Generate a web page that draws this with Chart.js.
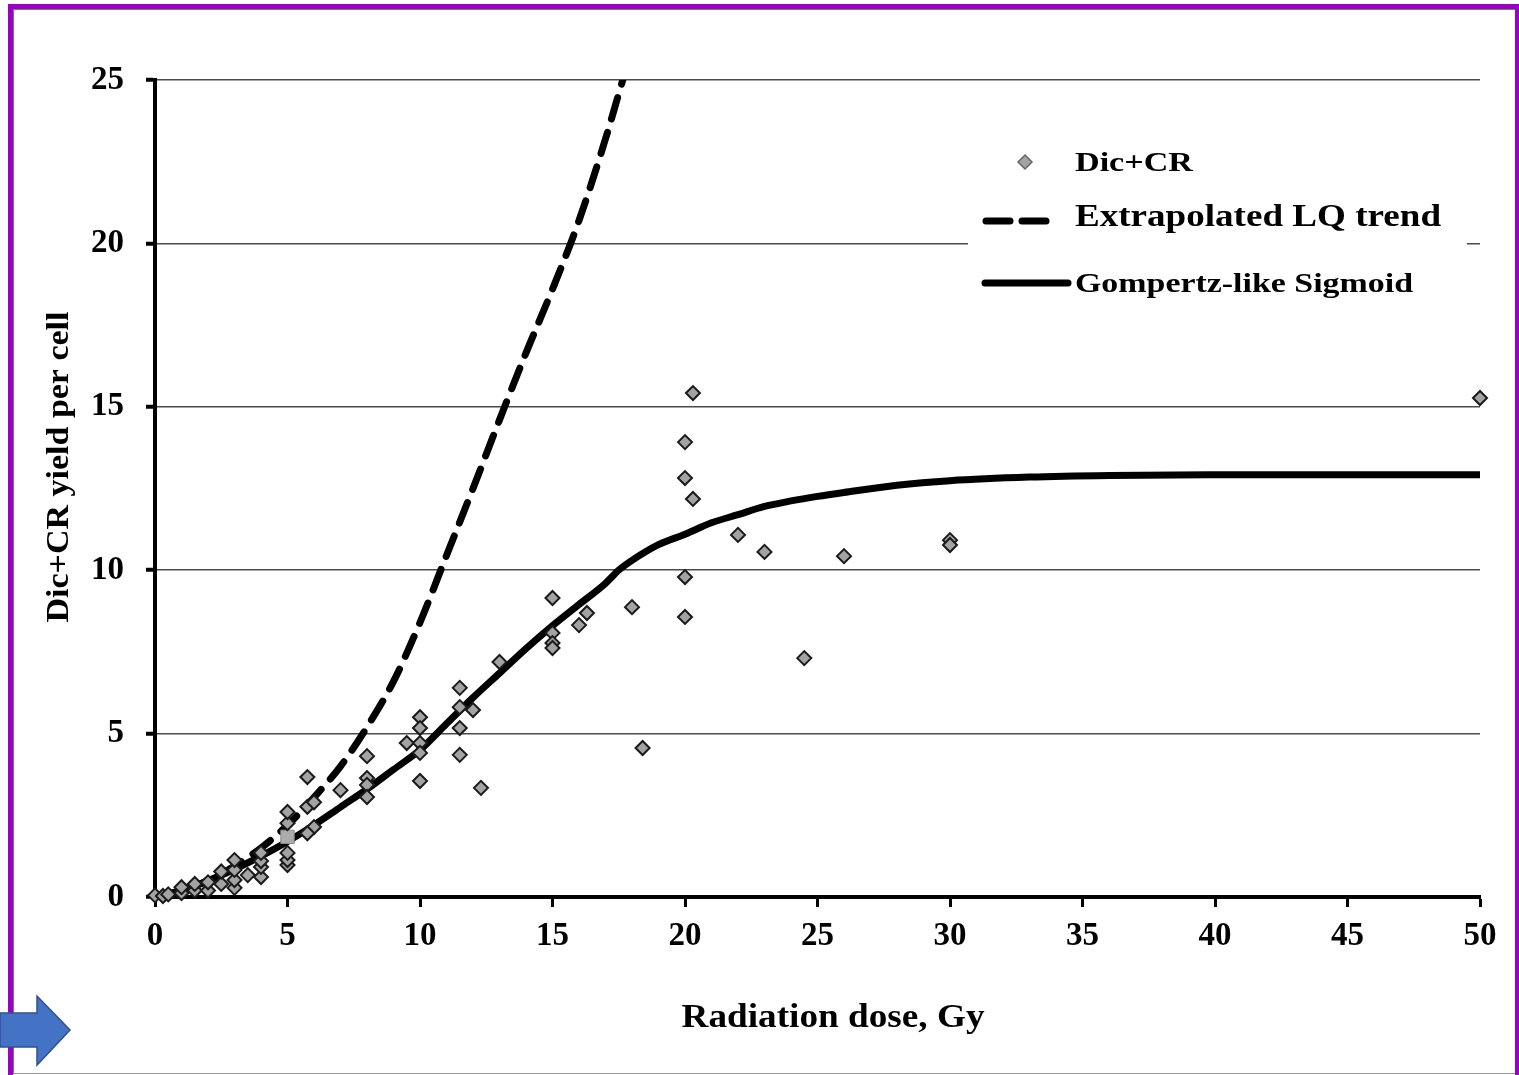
<!DOCTYPE html>
<html>
<head>
<meta charset="utf-8">
<script src="https://cdn.jsdelivr.net/npm/chart.js@4.4.1/dist/chart.umd.min.js"></script>
<style>
  html, body { margin: 0; padding: 0; background: #fff; }
  body { width: 1519px; height: 1075px; position: relative; overflow: hidden; }
  #frame { position: absolute; left: 8px; top: 4px; width: 1502px; height: 1075px;
           border-left: 5px solid #9a00c8; border-top: 5px solid #9a00c8; border-right: 4px solid #9a00c8; }
  #frame .inner { position: absolute; left: 0; top: 0; right: 0; height: 1063px;
                  border-left: 1px solid #777; border-top: 1px solid #777; border-bottom: 1px solid #999; }
  #chart { position: absolute; left: 0; top: 0; }
  #arrow { position: absolute; left: 0; top: 0; }
</style>
</head>
<body>
<div id="frame"><div class="inner"></div></div>
<canvas id="chart" width="1519" height="1075"></canvas>
<svg id="arrow" width="1519" height="1075">
  <polygon points="0,1013 37,1013 37,996 70,1030 37,1065 37,1047 0,1047" fill="#4472c4" stroke="#2f528f" stroke-width="1.5"/>
</svg>
<script>
// Dic+CR yield vs radiation dose

/* measured points */
const scatterDose = [0, 0.3, 0.5, 1, 1, 1.5, 1.5, 2, 2, 2.5, 2.5, 3, 3, 3, 3, 3.5, 4, 4, 4, 4,
  5, 5, 5, 5, 5, 5.75, 5.75, 6, 6, 5.75, 7, 8, 8, 8, 8, 9.5, 10, 10, 10, 10, 10,
  11.5, 11.5, 11.5, 11.5, 12, 12.3, 13, 15, 15, 15, 15, 16, 16.3, 18, 18.4,
  20, 20, 20, 20, 20.3, 20.3, 22, 23, 24.5, 26, 30, 30, 50];
const scatterYield = [0.05, 0.03, 0.08, 0.12, 0.3, 0.2, 0.4, 0.2, 0.45, 0.4, 0.78, 0.28, 0.52, 0.83, 1.13, 0.67, 0.61, 0.92, 1.1, 1.35,
  0.98, 1.13, 1.35, 2.26, 2.6, 3.67, 2.76, 2.9, 2.14, 1.95, 3.27, 4.31, 3.64, 3.43, 3.06, 4.71, 5.5, 5.17, 4.71, 4.41, 3.55,
  6.4, 5.81, 5.17, 4.35, 5.72, 3.34, 7.19, 9.15, 8.08, 7.77, 7.62, 8.32, 8.69, 8.87, 4.56,
  13.92, 12.82, 9.79, 8.57, 15.42, 12.18, 11.08, 10.56, 7.31, 10.43, 10.92, 10.77, 15.27];

/* the odd square marker at 5 Gy */
const squareDose = [5];
const squareYield = [1.84];

/* fitted curves */
const sigmoidDose = [0, 1, 2, 3, 4, 5, 6, 7, 8, 9, 10, 11, 12, 13, 14, 15, 16, 17, 17.5, 18, 19, 20, 21, 22, 23, 24, 25, 26, 28, 30, 33, 36, 40, 45, 50];
const sigmoidYield = [0, 0.2, 0.5, 0.85, 1.25, 1.7, 2.2, 2.75, 3.3, 3.9, 4.5, 5.3, 6.1, 6.85, 7.6, 8.3, 8.95, 9.6, 10.0, 10.3, 10.78, 11.1, 11.45, 11.7, 11.95, 12.12, 12.26, 12.38, 12.6, 12.74, 12.85, 12.9, 12.92, 12.92, 12.92];

const lqDose = [0, 1, 2, 3, 4, 5, 6, 7, 8, 9, 10, 11, 12, 13, 14, 15, 16, 17, 17.65];
const lqYield = [0, 0.2, 0.5, 0.95, 1.5, 2.2, 3.05, 4.0, 5.2, 6.6, 8.4, 10.45, 12.5, 14.6, 16.65, 18.6, 20.7, 23.2, 25];

/* axes */
const xTicks = [0, 5, 10, 15, 20, 25, 30, 35, 40, 45, 50];
const yTicks = [0, 5, 10, 15, 20, 25];

const legendLabels = ['Dic+CR', 'Extrapolated LQ trend', 'Gompertz-like Sigmoid'];
const xTitle = 'Radiation dose, Gy';
const yTitle = 'Dic+CR yield per cell';

const serif = '"Liberation Serif", "Times New Roman", serif';

const pairs = (xs, ys) => xs.map((x, i) => ({ x: x, y: ys[i] }));

// bold serif text squeezed/stretched to a given width (the source figure is stretched sideways)
const fitText = (ctx, text, x, y, size, width, align) => {
  ctx.save();
  ctx.font = 'bold ' + size + 'px ' + serif;
  const sx = width / ctx.measureText(text).width;
  ctx.translate(x, y);
  ctx.scale(sx, 1);
  ctx.textAlign = align;
  ctx.textBaseline = 'alphabetic';
  ctx.fillStyle = '#000';
  ctx.fillText(text, 0, 0);
  ctx.restore();
};

const decorations = {
  id: 'decorations',
  afterDraw(chart) {
    const ctx = chart.ctx;

    // axis titles
    fitText(ctx, xTitle, 833, 1027, 33, 303, 'center');
    ctx.save();
    ctx.translate(68, 467);
    ctx.rotate(-Math.PI / 2);
    fitText(ctx, yTitle, 0, 0, 32, 311, 'center');
    ctx.restore();

    // legend box
    ctx.save();
    ctx.fillStyle = '#fff';
    ctx.fillRect(968, 130, 499, 180);

    // diamond marker
    ctx.beginPath();
    ctx.moveTo(1025, 155); ctx.lineTo(1032, 162); ctx.lineTo(1025, 169); ctx.lineTo(1018, 162);
    ctx.closePath();
    ctx.fillStyle = '#a3a3a3';
    ctx.fill();
    ctx.lineWidth = 1.5;
    ctx.strokeStyle = '#666';
    ctx.stroke();

    // dashed sample
    ctx.lineCap = 'round';
    ctx.lineWidth = 7;
    ctx.strokeStyle = '#000';
    ctx.setLineDash([24, 12]);
    ctx.beginPath();
    ctx.moveTo(986, 221); ctx.lineTo(1055, 221);
    ctx.stroke();

    // solid sample
    ctx.setLineDash([]);
    ctx.beginPath();
    ctx.moveTo(985, 283); ctx.lineTo(1068, 283);
    ctx.stroke();
    ctx.restore();

    fitText(ctx, legendLabels[0], 1075, 171, 27, 118, 'left');
    fitText(ctx, legendLabels[1], 1075, 226, 31, 366, 'left');
    fitText(ctx, legendLabels[2], 1075, 292, 27, 338, 'left');
  }
};

new Chart(document.getElementById('chart'), {
  data: {
    datasets: [{
        type: 'scatter',
        label: legendLabels[0],
        data: pairs(scatterDose, scatterYield),
        pointStyle: 'rectRot',
        pointRadius: 7,
        backgroundColor: '#a3a3a3',
        borderColor: '#1a1a1a',
        borderWidth: 2,
        clip: false,
        order: 0
      }, {
        type: 'scatter',
        label: 'square',
        data: pairs(squareDose, squareYield),
        pointStyle: 'rect',
        pointRadius: 9.5,
        backgroundColor: '#acacac',
        borderColor: '#8c8c8c',
        borderWidth: 1,
        order: 0
      }, {
        type: 'line',
        label: legendLabels[1],
        data: pairs(lqDose, lqYield),
        borderColor: '#000',
        borderWidth: 7,
        borderDash: [22, 14],
        borderCapStyle: 'round',
        pointRadius: 0,
        cubicInterpolationMode: 'monotone',
        fill: false,
        order: 2
      }, {
        type: 'line',
        label: legendLabels[2],
        data: pairs(sigmoidDose, sigmoidYield),
        borderColor: '#000',
        borderWidth: 7,
        pointRadius: 0,
        cubicInterpolationMode: 'monotone',
        fill: false,
        clip: false,
        order: 1
      }
    ]
  },
  options: {
    responsive: false,
    animation: false,
    events: [],
    layout: { padding: { left: 0, top: 80, right: 39, bottom: 0 } },
    plugins: {
      legend: { display: false },
      tooltip: { enabled: false }
    },
    scales: {
      x: {
        type: 'linear',
        position: 'bottom',
        min: 0,
        max: 50,
        afterBuildTicks: s => { s.ticks = xTicks.map(v => ({ value: v })); },
        afterFit: s => { s.height = 178; },
        border: { display: true, color: '#000', width: 4 },
        grid: { drawOnChartArea: false, drawTicks: true, tickLength: 10, tickColor: '#000', tickWidth: 3 },
        ticks: { color: '#000', padding: 10, maxRotation: 0, autoSkip: false,
                 font: { family: serif, weight: 'bold', size: 33 } }
      },
      y: {
        type: 'linear',
        min: 0,
        max: 25,
        afterBuildTicks: s => { s.ticks = yTicks.map(v => ({ value: v })); },
        afterFit: s => { s.width = 155; },
        border: { display: true, color: '#000', width: 4 },
        grid: { color: '#4a4a4a', lineWidth: 1.5, drawTicks: true, tickLength: 9, tickColor: '#000', tickWidth: 4 },
        ticks: { color: '#000', padding: 22, autoSkip: false,
                 font: { family: serif, weight: 'bold', size: 33 } }
      }
    }
  },
  plugins: [decorations]
});
</script>
</body>
</html>
